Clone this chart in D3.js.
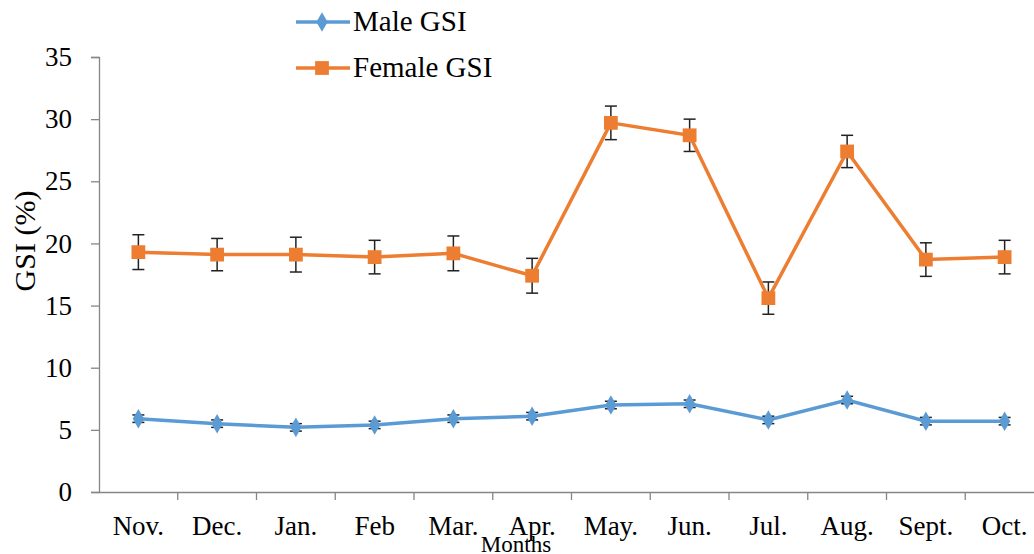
<!DOCTYPE html>
<html><head><meta charset="utf-8">
<script src="https://cdn.jsdelivr.net/npm/d3@7"></script>
<style>body{margin:0;background:#fff}svg{display:block}text{font-family:"Liberation Serif","Times New Roman",serif;fill:#000}</style>
</head><body>
<script>
const months = ["Nov.","Dec.","Jan.","Feb","Mar.","Apr.","May.","Jun.","Jul.","Aug.","Sept.","Oct."];
const maleGSI = [5.9,5.5,5.2,5.4,5.9,6.1,7.0,7.1,5.8,7.4,5.7,5.7];
const maleErr = [0.3,0.3,0.3,0.3,0.3,0.3,0.3,0.3,0.3,0.3,0.3,0.3];
const femaleGSI = [19.3,19.1,19.1,18.9,19.2,17.4,29.7,28.7,15.6,27.4,18.7,18.9];
const femaleErr = [1.4,1.3,1.4,1.35,1.4,1.4,1.35,1.3,1.3,1.3,1.35,1.35];
const yTicks = [0,5,10,15,20,25,30,35];

const W=1034,H=554;
const svg=d3.select("body").append("svg").attr("width",W).attr("height",H);
const x=d3.scaleBand().domain(months).range([99,1044]);
const y=d3.scaleLinear().domain([0,35]).range([492,57]);
const axisCol="#868686";

// y axis
const ya=svg.append("g").attr("transform","translate(99,0)").call(d3.axisLeft(y).tickValues(yTicks).tickSize(8).tickPadding(19));
ya.select(".domain").attr("stroke",axisCol).attr("stroke-width",1.3);
ya.selectAll(".tick line").attr("stroke",axisCol).attr("stroke-width",1.3);
ya.selectAll(".tick text").style("font-size","27px").style("font-family","Liberation Serif");
// x axis
const xa=svg.append("g").attr("transform","translate(0,492)").call(d3.axisBottom(x).tickSize(0));
xa.select(".domain").attr("stroke",axisCol).attr("stroke-width",1.3);
xa.selectAll(".tick text").attr("y",43).attr("dy","0").style("font-size","27px").style("font-family","Liberation Serif");
xa.append("g").selectAll("line").data(months).join("line")
  .attr("x1",d=>x(d)+x.bandwidth()).attr("x2",d=>x(d)+x.bandwidth()).attr("y1",0).attr("y2",8)
  .attr("stroke",axisCol).attr("stroke-width",1.3);

const cx=d=>x(d)+x.bandwidth()/2;
function series(vals,errs,color,shape,size){
  const g=svg.append("g");
  g.selectAll("g.err").data(months).join("g").each(function(m,i){
    const s=d3.select(this);
    const t=y(vals[i]+errs[i]), b=y(vals[i]-errs[i]), xx=cx(m);
    s.append("line").attr("x1",xx).attr("x2",xx).attr("y1",t).attr("y2",b).attr("stroke","#222").attr("stroke-width",1.5);
    s.append("line").attr("x1",xx-6).attr("x2",xx+6).attr("y1",t).attr("y2",t).attr("stroke","#222").attr("stroke-width",1.5);
    s.append("line").attr("x1",xx-6).attr("x2",xx+6).attr("y1",b).attr("y2",b).attr("stroke","#222").attr("stroke-width",1.5);
  });
  const line=d3.line().x((d,i)=>cx(months[i])).y(d=>y(d));
  g.append("path").datum(vals).attr("d",line).attr("fill","none").attr("stroke",color).attr("stroke-width",3.5);
  g.selectAll("path.m").data(vals).join("path").attr("class","m")
    .attr("transform",(d,i)=>`translate(${cx(months[i])},${y(d)})`)
    .attr("d",d3.symbol().type(shape).size(size)).attr("fill",color);
}
series(maleGSI,maleErr,"#5B9BD5",d3.symbolDiamond,110);
series(femaleGSI,femaleErr,"#ED7D31",d3.symbolSquare,190);

// axis titles
svg.append("text").attr("transform","translate(35,241) rotate(-90)").attr("text-anchor","middle").style("font-size","30px").text("GSI (%)");
svg.append("text").attr("x",516).attr("y",552).attr("text-anchor","middle").style("font-size","23px").text("Months");

// legend
const leg=[{name:"Male GSI",color:"#5B9BD5",shape:d3.symbolDiamond,size:110,y:22},{name:"Female GSI",color:"#ED7D31",shape:d3.symbolSquare,size:190,y:68}];
leg.forEach(l=>{
  svg.append("line").attr("x1",296).attr("x2",350).attr("y1",l.y).attr("y2",l.y).attr("stroke",l.color).attr("stroke-width",3.5);
  svg.append("path").attr("transform",`translate(322,${l.y})`).attr("d",d3.symbol().type(l.shape).size(l.size)).attr("fill",l.color);
  svg.append("text").attr("x",353).attr("y",l.y+9).style("font-size","29px").text(l.name);
});
</script>
</body></html>
